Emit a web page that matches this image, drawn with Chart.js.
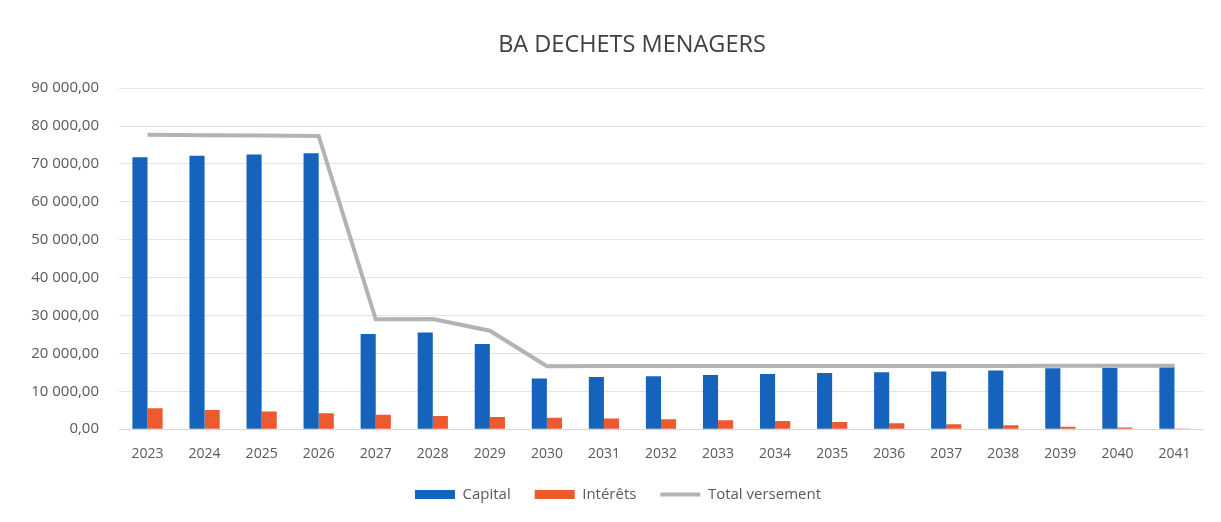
<!DOCTYPE html>
<html lang="fr">
<head>
<meta charset="utf-8">
<title>BA DECHETS MENAGERS</title>
<script src="https://cdn.jsdelivr.net/npm/chart.js@4"></script>
<style>
  html, body { margin: 0; padding: 0; background: #fff; }
  #wrap { position: relative; width: 1221px; height: 522px; }
</style>
</head>
<body>
<div id="wrap"><canvas id="debtChart"></canvas></div>
<script>
const years = ['2023', '2024', '2025', '2026', '2027', '2028', '2029', '2030', '2031', '2032',
  '2033', '2034', '2035', '2036', '2037', '2038', '2039', '2040', '2041'];

const capital = [71800, 72200, 72500, 72800, 25100, 25500, 22500, 13400, 13750, 13950,
  14300, 14550, 14800, 15000, 15250, 15500, 16100, 16250, 16600];

const interets = [5500, 5100, 4650, 4200, 3800, 3500, 3250, 3000, 2800, 2600,
  2350, 2150, 1900, 1600, 1300, 1050, 650, 450, 50];

const totalVersement = [77700, 77600, 77500, 77400, 29000, 29100, 26000, 16600, 16650, 16650,
  16650, 16700, 16700, 16700, 16700, 16700, 16750, 16750, 16750];

const yTicks = [0, 10000, 20000, 30000, 40000, 50000, 60000, 70000, 80000, 90000];

const formatFr = (v) => {
  const parts = v.toFixed(2).split('.');
  const intPart = parts[0].replace(/\B(?=(\d{3})+(?!\d))/g, ' ');
  return `${intPart},${parts[1]}`;
};

// the original title and legend sit a little right of the canvas centre,
// and the legend is a bit closer to the axis than Chart.js puts it
const shiftBlocks = {
  id: 'shiftBlocks',
  afterLayout(chart) {
    if (chart.titleBlock) chart.titleBlock.left += 50;
    if (chart.legend) {
      chart.legend.left += 22;
      chart.legend.top -= 15;
      chart.legend.bottom -= 15;
    }
  }
};

const ctx = document.getElementById('debtChart');

new Chart(ctx, {
  type: 'bar',
  data: {
    labels: years,
    datasets: [
      {
        label: 'Capital',
        data: capital,
        backgroundColor: '#1663BD',
        categoryPercentage: 0.53,
        barPercentage: 1,
        order: 2
      },
      {
        label: 'Intérêts',
        data: interets,
        backgroundColor: '#EE5A30',
        categoryPercentage: 0.53,
        barPercentage: 1,
        order: 2
      },
      {
        type: 'line',
        label: 'Total versement',
        data: totalVersement,
        borderColor: '#B3B3B6',
        backgroundColor: '#B3B3B6',
        borderWidth: 4,
        pointRadius: 0,
        tension: 0,
        order: 1
      }
    ]
  },
  plugins: [shiftBlocks],
  options: {
    responsive: true,
    maintainAspectRatio: false,
    animation: false,
    layout: { padding: { left: 11, right: 18, top: 0, bottom: -5 } },
    plugins: {
      tooltip: { enabled: false },
      title: {
        display: true,
        text: 'BA DECHETS MENAGERS',
        color: '#404040',
        font: { family: 'Open Sans', size: 23.5, weight: 'normal' },
        padding: { top: 31, bottom: 29 }
      },
      legend: {
        position: 'bottom',
        labels: {
          color: '#595959',
          font: { family: 'Open Sans', size: 15 },
          usePointStyle: true,
          pointStyleWidth: 40,
          boxHeight: 9,
          padding: 24,
          generateLabels: (chart) => {
            const items = Chart.defaults.plugins.legend.labels.generateLabels(chart);
            items.sort((a, b) => a.datasetIndex - b.datasetIndex);
            return items.map(item => {
              item.pointStyle = item.datasetIndex === 2 ? 'line' : 'rect';
              if (item.datasetIndex !== 2) item.lineWidth = 0;
              return item;
            });
          }
        }
      }
    },
    scales: {
      x: {
        grid: { display: false, drawTicks: false },
        border: { color: '#D6D6D6', width: 1 },
        ticks: {
          color: '#595959',
          font: { family: 'Open Sans', size: 14 },
          padding: 16,
          maxRotation: 0,
          autoSkip: false
        }
      },
      y: {
        min: 0,
        max: 90000,
        afterFit: (scale) => { scale.width = 108; },
        afterBuildTicks: (scale) => { scale.ticks = yTicks.map(v => ({ value: v })); },
        grid: { color: '#E3E3E3', drawTicks: false },
        border: { display: false },
        ticks: {
          color: '#595959',
          font: { family: 'Open Sans', size: 15 },
          padding: 20,
          callback: (v) => formatFr(v)
        }
      }
    }
  }
});
</script>
</body>
</html>
